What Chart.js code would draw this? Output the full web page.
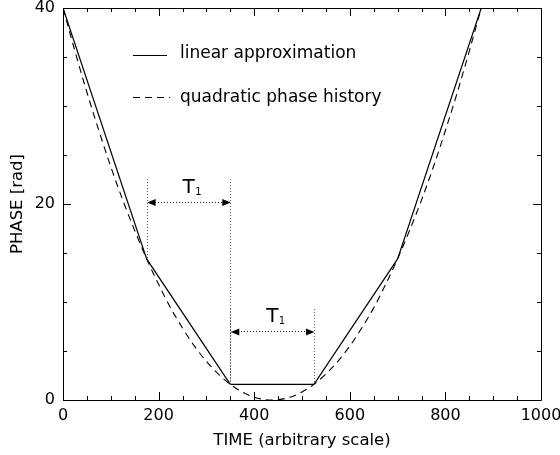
<!DOCTYPE html>
<html><head><meta charset="utf-8">
<style>html,body{margin:0;padding:0;background:#fff;}#wrap{width:560px;height:455px;}</style>
<script src="https://cdn.jsdelivr.net/npm/chart.js@4/dist/chart.umd.min.js"></script>
</head><body><div id="wrap"><canvas id="c" width="560" height="455"></canvas></div>
<script>
// ---- data ----
const linearTime  = [0, 175, 350, 525, 700, 875];
const linearPhase = [40, 14.4, 1.6, 1.6, 14.4, 40];

const quadTime  = [0,25,50,75,100,125,150,175,200,225,250,275,300,325,350,375,400,425,437.5,450,475,500,525,550,575,600,625,650,675,700,725,750,775,800,825,850,875];
const quadPhase = [40,35.6,31.4,27.5,23.8,20.4,17.3,14.4,11.8,9.4,7.35,5.5,3.95,2.65,1.6,0.82,0.29,0.03,0,0.03,0.29,0.82,1.6,2.65,3.95,5.5,7.35,9.4,11.8,14.4,17.3,20.4,23.8,27.5,31.4,35.6,40];

const xMajorTicks = [0, 200, 400, 600, 800, 1000];
const yMajorTicks = [0, 20, 40];
const xMinorStep = 50;
const yMinorStep = 5;

const legendLabels = ['linear approximation', 'quadratic phase history'];
const intervalLabel = ['T', '1'];
const intervalStart = [175, 350];
const intervalEnd   = [350, 525];
const intervalArrowPhase = [20.2, 7.0];
const intervalTopPhase   = [22.6, 9.3];

const FONT = 'DejaVu Sans';

function linearAt(t) {
  const i = linearTime.indexOf(t);
  return i >= 0 ? linearPhase[i] : 0;
}

const framePlugin = {
  id: 'frame',
  afterDatasetsDraw(chart) {
    const ctx = chart.ctx;
    const a = chart.chartArea;
    const xs = chart.scales.x, ys = chart.scales.y;
    ctx.save();
    ctx.strokeStyle = '#000';
    ctx.lineWidth = 1;
    ctx.beginPath();
    ctx.rect(Math.round(a.left) + 0.5, Math.round(a.top) + 0.5, Math.round(a.right - a.left), Math.round(a.bottom - a.top));
    ctx.stroke();
    // inward ticks
    const majorLen = 8, minorLen = 4;
    ctx.beginPath();
    for (let v = xs.min; v <= xs.max + 1e-9; v += xMinorStep) {
      const px = Math.round(xs.getPixelForValue(v)) + 0.5;
      const len = xMajorTicks.includes(v) ? majorLen : minorLen;
      ctx.moveTo(px, a.bottom); ctx.lineTo(px, a.bottom - len);
      ctx.moveTo(px, a.top); ctx.lineTo(px, a.top + len);
    }
    for (let v = ys.min; v <= ys.max + 1e-9; v += yMinorStep) {
      const py = Math.round(ys.getPixelForValue(v)) + 0.5;
      const len = yMajorTicks.includes(v) ? majorLen : minorLen;
      ctx.moveTo(a.left, py); ctx.lineTo(a.left + len, py);
      ctx.moveTo(a.right, py); ctx.lineTo(a.right - len, py);
    }
    ctx.stroke();

    // interval annotations
    function dotV(x, y1, y2) {
      const px = Math.round(x);
      for (let y = Math.min(y1, y2); y <= Math.max(y1, y2); y += 3) ctx.fillRect(px, Math.round(y), 1, 1);
    }
    function dotH(x1, x2, y) {
      const py = Math.round(y);
      for (let x = x1; x <= x2; x += 3) ctx.fillRect(Math.round(x), py, 1, 1);
    }
    for (let i = 0; i < intervalStart.length; i++) {
      const x1 = xs.getPixelForValue(intervalStart[i]);
      const x2 = xs.getPixelForValue(intervalEnd[i]);
      const yTop = ys.getPixelForValue(intervalTopPhase[i]);
      ctx.fillStyle = '#666';
      dotV(x1, yTop, ys.getPixelForValue(linearAt(intervalStart[i])));
      dotV(x2, yTop, ys.getPixelForValue(linearAt(intervalEnd[i])));
      const ya = ys.getPixelForValue(intervalArrowPhase[i]);
      ctx.fillStyle = '#222';
      dotH(x1 + 8, x2 - 8, ya);
      ctx.beginPath();
      ctx.moveTo(x1 + 0.5, ya + 0.5); ctx.lineTo(x1 + 9, ya - 3); ctx.lineTo(x1 + 9, ya + 4); ctx.closePath();
      ctx.moveTo(x2 + 0.5, ya + 0.5); ctx.lineTo(x2 - 8, ya - 3); ctx.lineTo(x2 - 8, ya + 4); ctx.closePath();
      ctx.fillStyle = '#000';
      ctx.fill();
      // label T1
      const mid = (x1 + x2) / 2;
      ctx.fillStyle = '#000';
      ctx.textBaseline = 'alphabetic';
      ctx.textAlign = 'left';
      ctx.font = '20px "' + FONT + '"';
      ctx.fillText(intervalLabel[0], mid - 6, ya - 9);
      const tw = ctx.measureText(intervalLabel[0]).width;
      ctx.font = '10px "' + FONT + '"';
      ctx.fillText(intervalLabel[1], mid - 6 + tw + 0.5, ya - 7);
    }

    // legend inside the plot
    ctx.strokeStyle = '#000';
    ctx.lineWidth = 1;
    ctx.fillStyle = '#000';
    ctx.font = '17px "' + FONT + '"';
    ctx.textAlign = 'left';
    ctx.textBaseline = 'alphabetic';
    ctx.beginPath(); ctx.setLineDash([]);
    ctx.moveTo(133, 55.5); ctx.lineTo(167, 55.5); ctx.stroke();
    ctx.fillText(legendLabels[0], 180, 58);
    ctx.beginPath(); ctx.setLineDash([7, 5]);
    ctx.moveTo(133, 97.5); ctx.lineTo(170, 97.5); ctx.stroke();
    ctx.setLineDash([]);
    ctx.fillText(legendLabels[1], 180, 102);
    ctx.restore();
  }
};

new Chart(document.getElementById('c').getContext('2d'), {
  type: 'scatter',
  data: {
    datasets: [
      {
        label: legendLabels[1],
        data: quadTime.map((t, i) => ({x: t, y: quadPhase[i]})),
        showLine: true, borderColor: '#000', borderWidth: 1.1, borderDash: [7, 5],
        pointRadius: 0, fill: false, cubicInterpolationMode: 'monotone'
      },
      {
        label: legendLabels[0],
        data: linearTime.map((t, i) => ({x: t, y: linearPhase[i]})),
        showLine: true, borderColor: '#000', borderWidth: 1.2,
        pointRadius: 0, fill: false
      }
    ]
  },
  options: {
    responsive: false, animation: false, devicePixelRatio: 1,
    layout: {padding: 0},
    plugins: {legend: {display: false}, tooltip: {enabled: false}},
    scales: {
      x: {
        type: 'linear', min: 0, max: 1000,
        grid: {display: false, drawTicks: false}, border: {display: false},
        ticks: {stepSize: 200, padding: 6, color: '#000', font: {family: FONT, size: 16},
                callback: (v) => String(v)},
        title: {display: true, text: 'TIME (arbitrary scale)', color: '#000', font: {family: FONT, size: 16.5}, padding: {top: 0, bottom: 4}},
        afterFit(s) { s.height = 55; s.paddingLeft = 0; s.paddingRight = 19; }
      },
      y: {
        type: 'linear', min: 0, max: 40,
        grid: {display: false, drawTicks: false}, border: {display: false},
        ticks: {stepSize: 20, padding: 8, color: '#000', font: {family: FONT, size: 16},
                callback: (v) => String(v)},
        title: {display: true, text: 'PHASE [rad]', color: '#000', font: {family: FONT, size: 16.5}, padding: {top: 8, bottom: 0}},
        afterFit(s) { s.width = 63; s.paddingTop = 8; s.paddingBottom = 0; }
      }
    }
  },
  plugins: [framePlugin]
});
</script>
</body></html>
